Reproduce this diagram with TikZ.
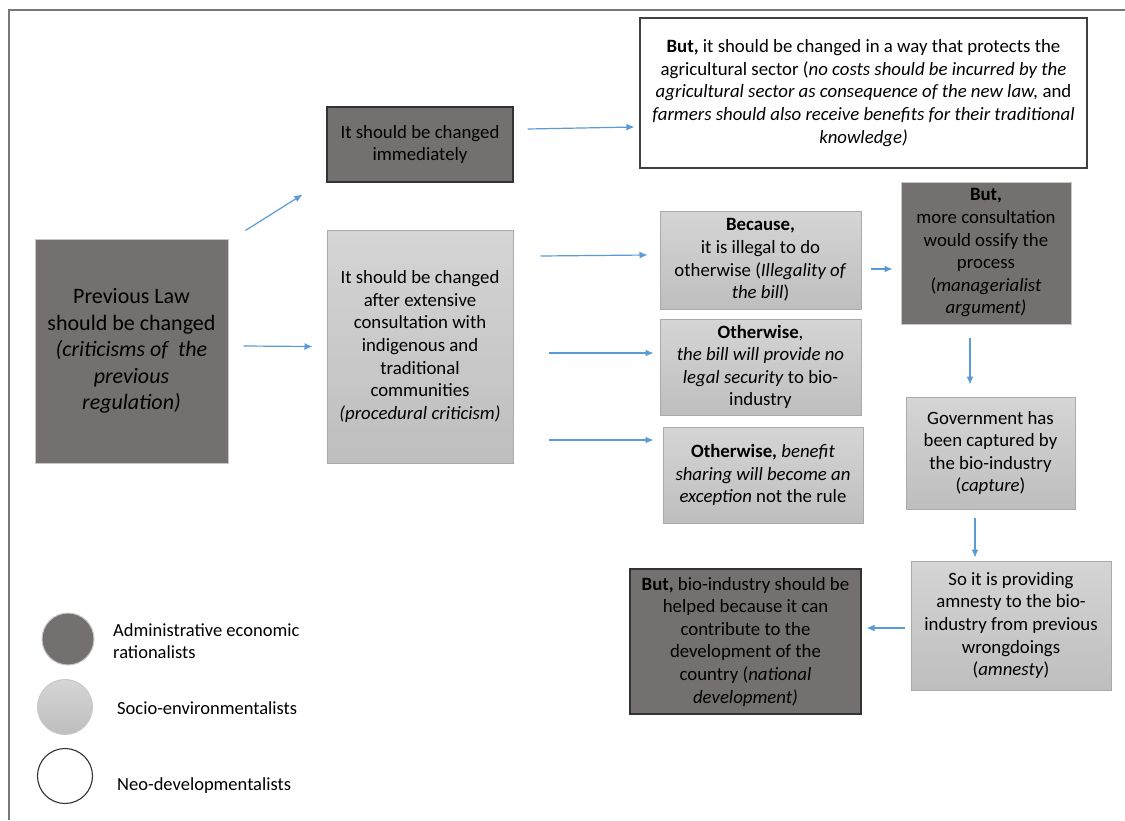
\documentclass[tikz,border=0pt]{standalone}
\usepackage{fontspec}
\setmainfont{Carlito}
\usetikzlibrary{arrows.meta}
\definecolor{darkfill}{RGB}{116,112,111}
\definecolor{lighttop}{RGB}{213,213,213}
\definecolor{lightbot}{RGB}{190,190,190}
\definecolor{lightborder}{RGB}{170,170,170}
\definecolor{paleborder}{RGB}{200,200,200}
\definecolor{arrowblue}{RGB}{91,155,213}
\definecolor{framegray}{RGB}{120,120,120}
\tikzset{
  base/.style={rectangle, align=center, inner sep=0pt, text=black,
    font=\fontsize{18.8}{22.6}\selectfont},
  darkbox/.style={base, fill=darkfill, draw=paleborder, line width=1pt},
  darkboxb/.style={base, fill=darkfill, draw=black!80, line width=1.2pt},
  lightbox/.style={base, top color=lighttop, bottom color=lightbot, draw=lightborder, line width=1pt},
  whitebox/.style={base, fill=white, draw=black!75, line width=1.2pt},
  arr/.style={draw=arrowblue, line width=1.2pt, -{Latex[length=8pt,width=7pt]}},
  legtext/.style={anchor=west, align=left, inner sep=0pt, text=black,
    font=\fontsize{18.5}{22}\selectfont},
  legdot/.style={circle, inner sep=0pt, minimum size=#1}
}
\begin{document}
\begin{tikzpicture}[x=1pt,y=-1pt]
\useasboundingbox (0,0) rectangle (1125,820);
% frame
\coordinate (fbl) at (9,820);
\coordinate (ftl) at (9,10);
\coordinate (ftr) at (1125,10);
\draw[framegray, line width=1.5pt] (fbl) -- (ftl) -- (ftr);

% nodes
\node[darkbox, minimum width=193pt, minimum height=224pt,
  font=\fontsize{22}{26.5}\selectfont] (A) at (131.5,351)
  {Previous Law\\should be changed\\\textit{(criticisms of\ \ the}\\\textit{previous}\\\textit{regulation)}};

\node[darkboxb, minimum width=186pt, minimum height=75pt] (B) at (420,144.5)
  {It should be changed\\immediately};

\node[lightbox, minimum width=186pt, minimum height=233pt] (C) at (420,346.5)
  {It should be changed\\after extensive\\consultation with\\indigenous and\\traditional\\communities\\\textit{(procedural criticism)}};

\node[whitebox, minimum width=447pt, minimum height=150pt] (D) at (863.5,93)
  {\textbf{But,} it should be changed in a way that protects the\\
   agricultural sector (\textit{no costs should be incurred by the}\\
   \textit{agricultural sector as consequence of the new law,} and\\
   \textit{farmers should also receive benefits for their traditional}\\
   \textit{knowledge)}};

\node[lightbox, minimum width=201pt, minimum height=98pt] (E) at (760.5,260)
  {\textbf{Because,}\\it is illegal to do\\otherwise (\textit{Illegality of}\\\textit{the bill})};

\node[darkbox, minimum width=170pt, minimum height=142pt] (F) at (986,253)
  {\textbf{But,}\\more consultation\\would ossify the\\process\\(\textit{managerialist}\\\textit{argument)}};

\node[lightbox, minimum width=201pt, minimum height=96pt] (G) at (760.5,367)
  {\textbf{Otherwise},\\\textit{the bill will provide no}\\\textit{legal security} to bio-\\industry};

\node[lightbox, minimum width=200pt, minimum height=96pt] (H) at (763,475)
  {\textbf{Otherwise,} \textit{benefit}\\\textit{sharing will become an}\\\textit{exception} not the rule};

\node[lightbox, minimum width=169pt, minimum height=112pt] (I) at (990.5,453)
  {Government has\\been captured by\\the bio-industry\\(\textit{capture})};

\node[lightbox, minimum width=200pt, minimum height=129pt] (J) at (1011,625.5)
  {So it is providing\\amnesty to the bio-\\industry from previous\\wrongdoings\\(\textit{amnesty})};

\node[darkboxb, minimum width=231pt, minimum height=145pt] (K) at (745.5,641.5)
  {\textbf{But,} bio-industry should be\\helped because it can\\contribute to the\\development of the\\country (\textit{national}\\\textit{development)}};

% connectors
\draw[arr] ([xshift=17pt,yshift=8pt]A.north east) -- ([xshift=-24pt,yshift=-12pt]B.south west);
\draw[arr] ([xshift=15pt,yshift=5pt]A.east) -- ([xshift=-14pt]C.west);
\draw[arr] ([xshift=14pt,yshift=15.5pt]B.east) -- ([xshift=-5pt,yshift=-34pt]D.west);
\draw[arr] ([xshift=27pt,yshift=90.5pt]C.east) -- ([xshift=-12pt,yshift=5pt]E.west);
\draw[arr] ([xshift=35pt,yshift=-6.5pt]C.east) -- ([xshift=-6pt,yshift=14pt]G.west);
\draw[arr] ([xshift=35pt,yshift=-93.5pt]C.east) -- ([xshift=-9pt,yshift=35pt]H.west);
\draw[arr] ([xshift=9pt,yshift=-9pt]E.east) -- ([xshift=-8pt,yshift=-16pt]F.west);
\draw[arr] ([xshift=-16pt,yshift=-13pt]F.south) -- ([xshift=-20.5pt,yshift=12pt]I.north);
\draw[arr] ([xshift=-15.5pt,yshift=-8pt]I.south) -- ([xshift=-36pt,yshift=3pt]J.north);
\draw[arr] ([xshift=-6pt,yshift=-2.5pt]J.west) -- ([xshift=5pt,yshift=13.5pt]K.east);

% legend
\node[legdot=52pt, fill=darkfill, draw=paleborder, line width=1pt] (L1) at (68,639) {};
\node[legdot=55pt, top color=lighttop, bottom color=lightbot, draw=paleborder, line width=1pt] (L2) at (65,707) {};
\node[legdot=55pt, fill=white, draw=black!80, line width=1.1pt] (L3) at (65,776) {};
\node[legtext] (T1) at (113,641) {Administrative economic\\rationalists};
\node[legtext] (T2) at (117,708) {Socio-environmentalists};
\node[legtext] (T3) at (117,786) {Neo-developmentalists};
\end{tikzpicture}
\end{document}
